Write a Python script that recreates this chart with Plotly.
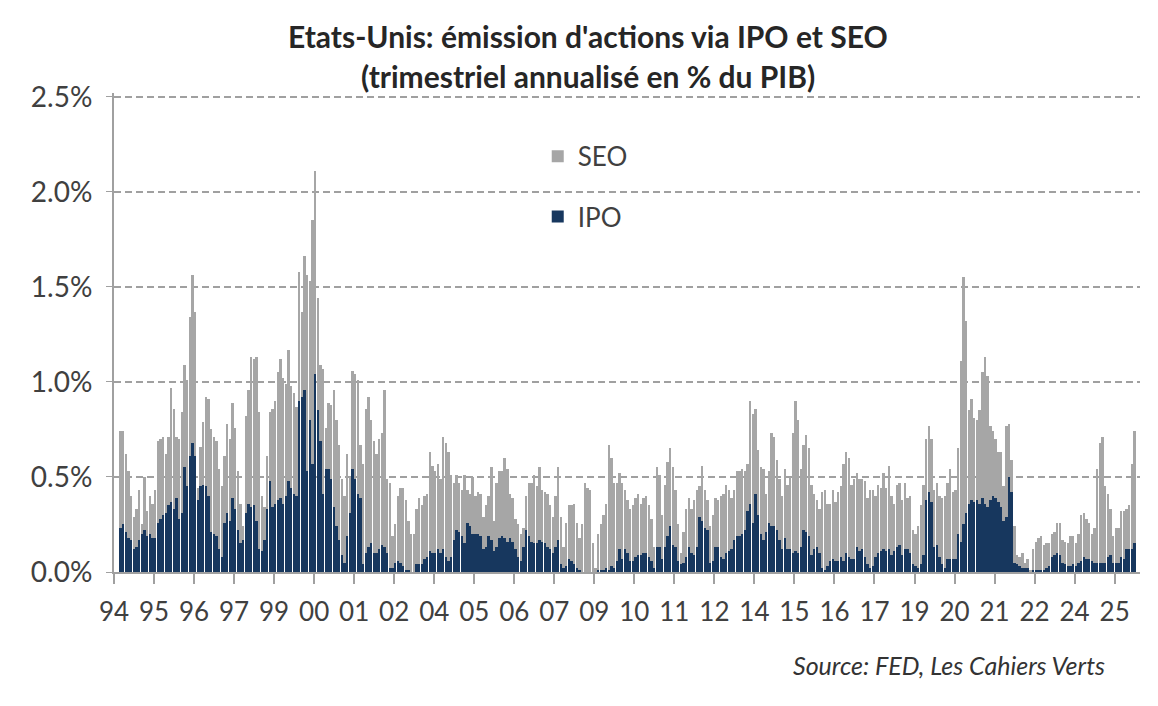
import plotly.graph_objects as go

# monthly observations, Jan 1994 -> Nov 2025 (% of GDP, quarterly annualised)
ipo = [
    None, None, 0.23, 0.25, 0.21, 0.18, 0.17, 0.12, 0.13, 0.17, 0.20, 0.22,  # 94
    0.19, 0.20, 0.18, 0.18, 0.26, 0.28, 0.30, 0.31, 0.35, 0.37, 0.33, 0.39,  # 95
    0.28, 0.31, 0.55, 0.45, 0.61, 0.68, 0.61, 0.38, 0.45, 0.46, 0.45, 0.40,  # 96
    0.21, 0.20, 0.19, 0.12, 0.08, 0.26, 0.31, 0.27, 0.39, 0.33, 0.22, 0.15,  # 97
    0.17, 0.31, 0.36, 0.34, 0.35, 0.27, 0.12, 0.11, 0.17, 0.33, 0.48, 0.34,  # 98
    0.36, 0.38, 0.39, 0.36, 0.40, 0.48, 0.44, 0.41, 0.40, 0.90, 0.92, 0.96,  # 99
    0.53, 0.80, 0.57, 1.04, 0.85, 0.69, 0.41, 0.54, 0.54, 0.49, 0.34, 0.24,  # 00
    0.17, 0.09, 0.05, 0.19, 0.31, 0.54, 0.49, 0.41, 0.39, 0.04, 0.10, 0.13,  # 01
    0.15, 0.10, 0.10, 0.12, 0.14, 0.13, 0.10, 0.02, 0.02, 0.05, 0.06, 0.05,  # 02
    0.03, 0.01, 0.01, 0.00, 0.00, 0.04, 0.04, 0.04, 0.07, 0.08, 0.11, 0.10,  # 03
    0.10, 0.12, 0.10, 0.12, 0.08, 0.06, 0.08, 0.17, 0.22, 0.21, 0.19, 0.15,  # 04
    0.26, 0.24, 0.20, 0.20, 0.20, 0.19, 0.12, 0.13, 0.19, 0.17, 0.11, 0.13,  # 05
    0.18, 0.19, 0.18, 0.16, 0.18, 0.16, 0.12, 0.08, 0.06, 0.13, 0.22, 0.19,  # 06
    0.16, 0.15, 0.15, 0.17, 0.16, 0.15, 0.13, 0.12, 0.10, 0.13, 0.17, 0.04,  # 07
    0.02, 0.03, 0.07, 0.06, 0.04, 0.02, 0.01, 0.00, 0.00, 0.00, 0.00, 0.00,  # 08
    0.00, 0.01, 0.01, 0.01, 0.02, 0.01, 0.03, 0.02, 0.06, 0.12, 0.07, 0.12,  # 09
    0.10, 0.06, 0.06, 0.08, 0.09, 0.09, 0.10, 0.10, 0.08, 0.06, 0.02, 0.13,  # 10
    0.13, 0.07, 0.13, 0.19, 0.24, 0.14, 0.13, 0.06, 0.04, 0.05, 0.08, 0.13,  # 11
    0.10, 0.09, 0.13, 0.29, 0.27, 0.23, 0.22, 0.05, 0.06, 0.13, 0.13, 0.08,  # 12
    0.07, 0.10, 0.11, 0.12, 0.17, 0.19, 0.19, 0.20, 0.22, 0.32, 0.36, 0.26,  # 13
    0.41, 0.30, 0.20, 0.17, 0.21, 0.26, 0.24, 0.24, 0.22, 0.17, 0.12, 0.18,  # 14
    0.12, 0.12, 0.10, 0.11, 0.10, 0.13, 0.22, 0.21, 0.19, 0.09, 0.12, 0.13,  # 15
    0.10, 0.02, 0.01, 0.03, 0.06, 0.07, 0.06, 0.06, 0.08, 0.06, 0.10, 0.08,  # 16
    0.07, 0.07, 0.13, 0.11, 0.12, 0.08, 0.04, 0.02, 0.03, 0.08, 0.10, 0.11,  # 17
    0.12, 0.11, 0.12, 0.09, 0.11, 0.13, 0.14, 0.09, 0.12, 0.12, 0.10, 0.04,  # 18
    0.03, 0.02, 0.04, 0.09, 0.38, 0.42, 0.37, 0.13, 0.14, 0.08, 0.04, 0.02,  # 19
    0.07, 0.07, 0.07, 0.07, 0.20, 0.16, 0.25, 0.31, 0.36, 0.38, 0.37, 0.38,  # 20
    0.36, 0.39, 0.36, 0.34, 0.38, 0.40, 0.39, 0.37, 0.34, 0.27, 0.29, 0.50,  # 21
    0.42, 0.05, 0.04, 0.03, 0.02, 0.02, 0.02, 0.00, 0.01, 0.01, 0.01, 0.01,  # 22
    0.01, 0.02, 0.03, 0.08, 0.09, 0.10, 0.09, 0.05, 0.04, 0.03, 0.03, 0.04,  # 23
    0.03, 0.05, 0.06, 0.08, 0.07, 0.07, 0.06, 0.05, 0.05, 0.05, 0.05, 0.05,  # 24
    0.08, 0.09, 0.05, 0.05, 0.05, 0.08, 0.07, 0.12, 0.12, 0.12, 0.15,        # 25
]

seo = [
    None, None, 0.51, 0.49, 0.41, 0.35, 0.23, 0.17, 0.20, 0.26, 0.05, 0.28,  # 94
    0.13, 0.20, 0.18, 0.25, 0.43, 0.42, 0.41, 0.31, 0.36, 0.60, 0.53, 0.32,  # 95
    0.42, 0.53, 0.54, 0.56, 0.73, 0.88, 0.76, 0.06, 0.21, 0.33, 0.47, 0.51,  # 96
    0.54, 0.51, 0.50, 0.42, 0.37, 0.35, 0.47, 0.43, 0.50, 0.43, 0.31, 0.21,  # 97
    0.07, 0.51, 0.60, 0.79, 0.77, 0.86, 0.72, 0.29, 0.17, 0.28, 0.36, 0.52,  # 98
    0.54, 0.67, 0.73, 0.66, 0.59, 0.69, 0.54, 0.53, 0.47, 0.68, 0.45, 0.70,  # 99
    1.03, 0.73, 1.28, 1.07, 0.59, 0.40, 0.66, 0.22, 0.35, 0.39, 0.62, 0.56,  # 00
    0.50, 0.40, 0.35, 0.43, 0.19, 0.52, 0.55, 0.60, 0.28, 0.53, 0.76, 0.79,  # 01
    0.65, 0.59, 0.52, 0.58, 0.59, 0.83, 0.39, 0.45, 0.17, 0.20, 0.34, 0.39,  # 02
    0.41, 0.37, 0.26, 0.20, 0.20, 0.29, 0.35, 0.31, 0.33, 0.33, 0.52, 0.46,  # 03
    0.43, 0.45, 0.39, 0.59, 0.60, 0.57, 0.43, 0.30, 0.29, 0.26, 0.24, 0.36,  # 04
    0.17, 0.17, 0.30, 0.20, 0.22, 0.22, 0.17, 0.22, 0.21, 0.38, 0.16, 0.34,  # 05
    0.35, 0.34, 0.42, 0.38, 0.23, 0.23, 0.16, 0.17, 0.14, 0.10, 0.18, 0.28,  # 06
    0.31, 0.36, 0.30, 0.38, 0.27, 0.27, 0.28, 0.23, 0.19, 0.27, 0.38, 0.25,  # 07
    0.11, 0.23, 0.28, 0.29, 0.32, 0.24, 0.17, 0.25, 0.47, 0.44, 0.43, 0.15,  # 08
    0.02, 0.19, 0.24, 0.29, 0.34, 0.66, 0.57, 0.45, 0.41, 0.40, 0.40, 0.31,  # 09
    0.28, 0.27, 0.29, 0.31, 0.32, 0.27, 0.29, 0.30, 0.27, 0.22, 0.11, 0.42,  # 10
    0.38, 0.23, 0.33, 0.39, 0.41, 0.41, 0.30, 0.19, 0.06, 0.16, 0.25, 0.26,  # 11
    0.23, 0.29, 0.30, 0.16, 0.29, 0.20, 0.16, 0.19, 0.24, 0.26, 0.25, 0.32,  # 12
    0.34, 0.36, 0.32, 0.27, 0.26, 0.34, 0.34, 0.34, 0.31, 0.25, 0.54, 0.57,  # 13
    0.45, 0.34, 0.35, 0.37, 0.20, 0.27, 0.49, 0.47, 0.37, 0.32, 0.28, 0.36,  # 14
    0.34, 0.38, 0.63, 0.79, 0.70, 0.41, 0.45, 0.51, 0.46, 0.37, 0.29, 0.25,  # 15
    0.23, 0.40, 0.42, 0.33, 0.30, 0.36, 0.31, 0.36, 0.37, 0.51, 0.53, 0.52,  # 16
    0.39, 0.42, 0.39, 0.38, 0.37, 0.40, 0.35, 0.41, 0.40, 0.32, 0.36, 0.33,  # 17
    0.40, 0.33, 0.44, 0.31, 0.25, 0.33, 0.33, 0.29, 0.35, 0.27, 0.30, 0.18,  # 18
    0.17, 0.22, 0.31, 0.37, 0.32, 0.35, 0.33, 0.30, 0.33, 0.32, 0.35, 0.38,  # 19
    0.40, 0.47, 0.35, 0.36, 0.45, 0.95, 1.30, 1.01, 0.49, 0.53, 0.44, 0.42,  # 20
    0.49, 0.66, 0.77, 0.69, 0.39, 0.34, 0.31, 0.26, 0.29, 0.18, 0.48, 0.28,  # 21
    0.17, 0.19, 0.05, 0.05, 0.08, 0.03, 0.05, 0.01, 0.11, 0.15, 0.17, 0.18,  # 22
    0.13, 0.13, 0.12, 0.12, 0.12, 0.16, 0.17, 0.12, 0.12, 0.12, 0.16, 0.15,  # 23
    0.12, 0.15, 0.24, 0.23, 0.21, 0.19, 0.14, 0.18, 0.49, 0.63, 0.66, 0.40,  # 24
    0.33, 0.24, 0.14, 0.18, 0.18, 0.24, 0.25, 0.21, 0.23, 0.45, 0.59,        # 25
]

# Excel-style category labels: one every 15 months, starting Jan 94
tick_labels = ["94", "95", "96", "97", "99", "00", "01", "02", "04", "05", "06",
               "07", "09", "10", "11", "12", "14", "15", "16", "17", "19", "20",
               "21", "22", "24", "25"]
label_step = 15

y_ticks = [0, 0.5, 1.0, 1.5, 2.0, 2.5]
y_labels = ["0.0%", "0.5%", "1.0%", "1.5%", "2.0%", "2.5%"]

months = list(range(len(ipo)))
tick_pos = [k * label_step - 0.5 for k in range(len(tick_labels))]

FONT = "Lato, 'Open Sans', sans-serif"
GREY = "#a6a6a6"
NAVY = "#17375e"
AXIS = "#a0a0a0"

fig = go.Figure()
fig.add_trace(go.Bar(x=months, y=ipo, name="IPO", marker_color=NAVY,
                     marker_line_width=0, legend="legend2"))
fig.add_trace(go.Bar(x=months, y=seo, name="SEO", marker_color=GREY,
                     marker_line_width=0, legend="legend"))

# page body adds an 8px offset, so the figure is drawn 8px smaller
fig.update_layout(
    width=1150,
    height=698,
    barmode="stack",
    bargap=0.3,
    plot_bgcolor="white",
    paper_bgcolor="white",
    margin=dict(l=106, r=18, t=85, b=134),
    font=dict(family=FONT, size=26, color="#404040"),
    legend=dict(x=0.413, y=0.868, xanchor="left", yanchor="middle",
                bgcolor="rgba(0,0,0,0)", font=dict(size=26)),
    legend2=dict(x=0.413, y=0.742, xanchor="left", yanchor="middle",
                 bgcolor="rgba(0,0,0,0)", font=dict(size=26)),
    showlegend=True,
)

fig.add_annotation(
    text="<b>Etats-Unis: émission d'actions via IPO et SEO</b>",
    xref="paper", yref="paper", x=0.462, y=1.118,
    xanchor="center", yanchor="middle", showarrow=False,
    font=dict(family=FONT, size=30, color="#262626"),
)
fig.add_annotation(
    text="<b>(trimestriel annualisé en % du PIB)</b>",
    xref="paper", yref="paper", x=0.462, y=1.035,
    xanchor="center", yanchor="middle", showarrow=False,
    font=dict(family=FONT, size=30, color="#262626"),
)

fig.update_xaxes(
    range=[-0.5, 384],
    tickmode="array",
    tickvals=tick_pos,
    ticktext=tick_labels,
    ticks="outside",
    ticklen=10,
    tickcolor=AXIS,
    tickwidth=1.5,
    showline=True,
    linecolor=AXIS,
    linewidth=2,
    showgrid=False,
    zeroline=False,
    ticklabelstandoff=6,
)

fig.update_yaxes(
    range=[0, 2.52],
    tickmode="array",
    tickvals=y_ticks,
    ticktext=y_labels,
    tickfont=dict(size=28),
    ticks="outside",
    ticklen=6,
    tickcolor=AXIS,
    showline=True,
    linecolor=AXIS,
    linewidth=2,
    showgrid=True,
    gridcolor=AXIS,
    gridwidth=2,
    griddash="7px,4px",
    zeroline=False,
    ticklabelstandoff=8,
)

fig.add_annotation(
    text="<i>Source: FED, Les Cahiers Verts</i>",
    xref="paper", yref="paper", x=0.968, y=-0.194,
    xanchor="right", yanchor="middle", showarrow=False,
    font=dict(family=FONT, size=25, color="#333333"),
)

fig.write_html("out.html")
